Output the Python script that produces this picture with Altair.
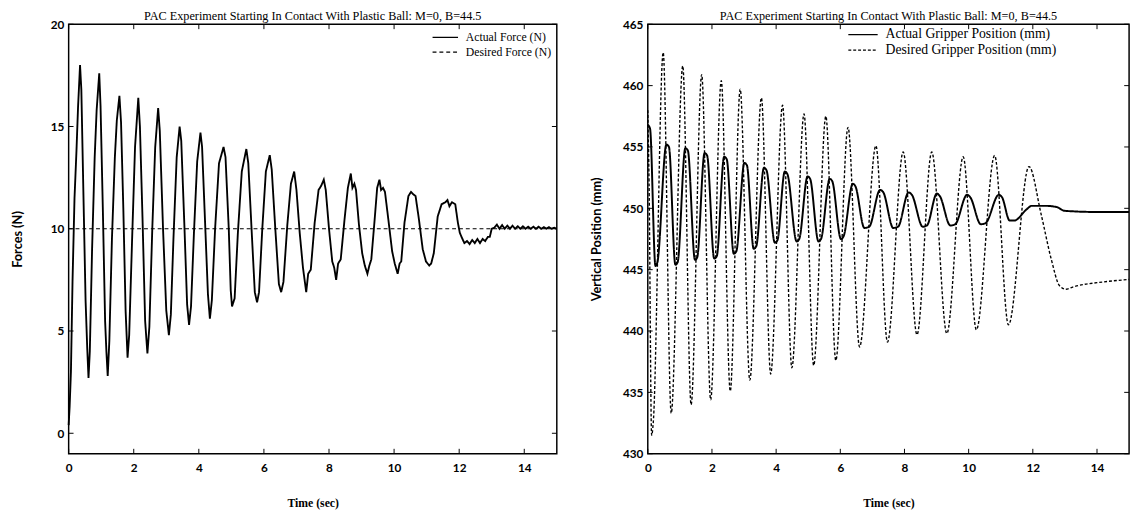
import altair as alt
import pandas as pd

TITLE = "PAC Experiment Starting In Contact With Plastic Ball: M=0, B=44.5"

# ---------------- Left panel: forces ----------------
force_t = [0.00, 0.03, 0.07, 0.12, 0.18, 0.24, 0.29, 0.35, 0.39, 0.45, 0.52, 0.57, 0.61, 0.65, 0.72, 0.80, 0.86,
           0.94, 0.98, 1.05, 1.12, 1.16, 1.20, 1.25, 1.33, 1.42, 1.48, 1.56, 1.61, 1.68, 1.75, 1.81, 1.86, 1.95,
           2.04, 2.14, 2.19, 2.27, 2.35, 2.42, 2.48, 2.57, 2.66, 2.75, 2.80, 2.90, 3.00, 3.08, 3.14, 3.22, 3.32,
           3.41, 3.46, 3.56, 3.64, 3.70, 3.76, 3.85, 3.95, 4.05, 4.10, 4.20, 4.28, 4.34, 4.40, 4.50, 4.62, 4.76,
           4.82, 4.92, 4.98, 5.02, 5.10, 5.20, 5.32, 5.46, 5.52, 5.62, 5.72, 5.79, 5.85, 5.95, 6.06, 6.18, 6.24,
           6.35, 6.46, 6.53, 6.60, 6.72, 6.83, 6.93, 7.00, 7.10, 7.20, 7.30, 7.36, 7.44, 7.56, 7.68, 7.76, 7.84,
           7.90, 8.00, 8.10, 8.16, 8.22, 8.28, 8.36, 8.48, 8.58, 8.67, 8.72, 8.78, 8.83, 8.92, 9.02, 9.10, 9.18,
           9.24, 9.30, 9.40, 9.48, 9.55, 9.60, 9.66, 9.72, 9.82, 9.94, 10.02, 10.11, 10.17, 10.22, 10.32, 10.44,
           10.52, 10.58, 10.66, 10.76, 10.88, 10.98, 11.08, 11.14, 11.22, 11.34, 11.46, 11.58, 11.64, 11.70,
           11.78, 11.88, 11.96, 12.02, 12.10, 12.16, 12.24, 12.32, 12.40, 12.48, 12.56, 12.64, 12.72, 12.80,
           12.88, 12.94, 13.00, 13.08, 13.16, 13.24, 13.32, 13.40, 13.48, 13.56, 13.64, 13.72, 13.80, 13.88,
           13.96, 14.04, 14.12, 14.20, 14.28, 14.36, 14.44, 14.52, 14.60, 14.68, 14.76, 14.84, 14.92, 15.00]
force_v = [0.4, 1.3, 3.0, 7.5, 11.5, 13.8, 16.0, 18.0, 16.8, 12.0, 6.5, 4.2, 2.7, 4.0, 9.0, 13.5, 15.8,
           17.6, 16.0, 11.0, 5.5, 4.0, 2.8, 4.5, 9.5, 13.5, 15.3, 16.5, 15.2, 11.0, 6.0, 3.7, 4.8, 9.5,
           14.0, 16.4, 15.0, 10.5, 5.5, 3.9, 5.2, 10.0, 14.0, 15.9, 14.8, 10.0, 6.0, 4.8, 5.8, 9.5, 13.5,
           15.0, 14.3, 10.0, 6.3, 5.3, 6.2, 9.8, 13.3, 14.7, 14.0, 10.0, 6.8, 5.6, 6.5, 10.0, 13.2, 14.0,
           13.5, 10.0, 7.0, 6.2, 6.6, 9.8, 12.8, 13.9, 13.2, 10.0, 6.9, 6.4, 6.9, 10.0, 12.8, 13.6, 12.9,
           10.0, 7.3, 6.9, 7.4, 10.2, 12.2, 12.8, 11.9, 9.8, 8.1, 6.9, 7.8, 8.0, 10.3, 11.9, 12.1, 12.4,
           11.9, 10.0, 8.4, 8.1, 7.5, 8.3, 8.5, 10.5, 12.0, 12.7, 12.0, 12.2, 11.9, 10.2, 8.8, 8.2, 7.8,
           8.2, 8.5, 10.4, 12.0, 12.4, 11.9, 12.0, 11.8, 10.5, 8.9, 8.3, 7.8, 8.3, 8.4, 10.3, 11.6,
           11.8, 11.7, 11.6, 10.5, 9.0, 8.4, 8.2, 8.3, 8.8, 10.6, 11.2, 11.3, 11.4, 11.1,
           11.3, 11.2, 10.3, 9.8, 9.5, 9.3, 9.4, 9.25, 9.45, 9.3, 9.5, 9.3, 9.5, 9.4,
           9.6, 9.6, 10.0, 10.05, 10.2, 10.0, 10.18, 10.0, 10.15, 10.0, 10.15, 10.0, 10.12, 10.0,
           10.12, 10.0, 10.1, 10.0, 10.1, 10.0, 10.1, 10.0, 10.08, 10.0, 10.08, 10.0, 10.05, 10.0]
desired_force_t = [0.0, 15.0]
desired_force_v = [10.0, 10.0]

# ---------------- Right panel: gripper position ----------------
pos_act_t = [0.00, 0.07, 0.24, 0.30, 0.58, 0.66, 0.86, 0.93, 1.17, 1.25, 1.47, 1.54, 1.77, 1.85, 2.07, 2.15,
             2.38, 2.46, 2.68, 2.76, 3.01, 3.09, 3.30, 3.38, 3.62, 3.70, 3.96, 4.04, 4.27, 4.35, 4.64, 4.72,
             4.98, 5.06, 5.32, 5.40, 5.67, 5.75, 6.02, 6.10, 6.39, 6.47, 6.75, 6.90, 7.24, 7.34, 7.65, 7.80,
             8.13, 8.23, 8.57, 8.70, 9.01, 9.10, 9.43, 9.58, 9.95, 10.05, 10.38, 10.53, 10.94, 11.04, 11.28,
             11.42, 11.80, 11.96, 12.40, 12.75, 12.98, 14.00, 15.00]
pos_act_v = [456.8, 456.5, 445.3, 445.6, 455.2, 455.0, 445.4, 445.6, 454.9, 454.7, 445.8, 446.0, 454.5, 454.3,
             445.9, 446.1, 454.2, 454.0, 446.3, 446.5, 453.7, 453.5, 446.7, 446.9, 453.3, 453.1, 447.2, 447.4,
             453.0, 452.8, 447.3, 447.5, 452.6, 452.4, 447.3, 447.5, 452.4, 452.2, 447.5, 447.7, 452.0, 451.8,
             448.4, 448.5, 451.5, 451.3, 448.4, 448.5, 451.3, 451.1, 448.5, 448.6, 451.2, 451.0, 448.6, 448.7,
             451.1, 450.9, 448.7, 448.8, 451.1, 450.9, 449.0, 449.0, 449.9, 450.2, 450.2, 450.1, 449.8, 449.7,
             449.7]
pos_des_t = [0.00, 0.04, 0.12, 0.17, 0.48, 0.73, 1.09, 1.35, 1.68, 1.96, 2.29, 2.57, 2.88, 3.18, 3.54, 3.83,
             4.20, 4.49, 4.87, 5.17, 5.55, 5.86, 6.24, 6.60, 7.11, 7.47, 7.96, 8.39, 8.85, 9.32, 9.83, 10.24,
             10.81, 11.24, 11.88, 12.26, 12.57, 12.83, 13.03, 13.26, 14.20, 15.00]
pos_des_v = [458.0, 452.0, 431.5, 432.5, 462.7, 433.3, 461.6, 434.0, 460.9, 434.4, 460.4, 435.1, 459.7, 436.0,
             459.0, 436.5, 458.4, 437.0, 457.7, 437.2, 457.5, 437.6, 456.6, 438.7, 455.1, 439.1, 454.6, 439.7,
             454.6, 439.8, 454.2, 440.1, 454.3, 440.5, 453.4, 449.5, 445.9, 443.7, 443.4, 443.6, 444.0, 444.2]

x_ticks = [0, 2, 4, 6, 8, 10, 12, 14]
force_ticks = [0, 5, 10, 15, 20]
pos_ticks = [430, 435, 440, 445, 450, 455, 460, 465]

force_names = ["Actual Force (N)", "Desired Force (N)"]
pos_names = ["Actual Gripper Position (mm)", "Desired Gripper Position (mm)"]

H = 439
W1 = 499
W2 = 492

LABEL_FONT = "Lato"
SERIF = "Liberation Serif"


def make_panel(act_t, act_v, des_t, des_v, names, ydomain, yticks, ytitle, width,
               dash, act_w, des_w, interp, lx, ly, ytitle_pad, sym_path, lab_off, lab_size):
    act = pd.DataFrame({"t": act_t, "v": act_v, "series": names[0]})
    des = pd.DataFrame({"t": des_t, "v": des_v, "series": names[1]})
    xs = alt.Scale(domain=[0, 15], nice=False, zero=False)
    ys = alt.Scale(domain=ydomain, nice=False, zero=False)
    xaxis = alt.Axis(values=x_ticks, title="Time (sec)", grid=False, ticks=False, domain=False,
                     labelFont=LABEL_FONT, labelFontWeight="bold", labelFontSize=12, labelColor="black",
                     labelPadding=9, labelFlush=False, labelOverlap=False,
                     titleFont=SERIF, titleFontWeight="bold", titleFontSize=12, titleColor="black",
                     titlePadding=25)
    yaxis = alt.Axis(values=yticks, title=ytitle, grid=False, ticks=False, domain=False,
                     labelFont=LABEL_FONT, labelFontWeight="bold", labelFontSize=12, labelColor="black",
                     labelPadding=5, labelFlush=False, labelOverlap=False,
                     titleFont=LABEL_FONT, titleFontWeight="bold", titleFontSize=13, titleColor="black",
                     titlePadding=ytitle_pad)
    dash_enc = alt.StrokeDash(
        "series:N",
        scale=alt.Scale(domain=names, range=[[1, 0], dash]),
        legend=alt.Legend(orient="none", legendX=lx, legendY=ly, title=None, symbolType=sym_path,
                          symbolSize=225, symbolStrokeWidth=1.3, symbolStrokeColor="black",
                          labelFont=SERIF, labelFontSize=lab_size, labelColor="black", labelOffset=lab_off,
                          labelLimit=400, rowPadding=-1, padding=0),
    )
    line_act = alt.Chart(act).mark_line(color="black", strokeWidth=act_w, interpolate=interp).encode(
        x=alt.X("t:Q", scale=xs, axis=xaxis),
        y=alt.Y("v:Q", scale=ys, axis=yaxis),
        strokeDash=dash_enc,
    )
    line_des = alt.Chart(des).mark_line(color="black", strokeWidth=des_w, interpolate=interp).encode(
        x="t:Q", y="v:Q", strokeDash=dash_enc,
    )
    xt = pd.DataFrame({"t": x_ticks})
    yt = pd.DataFrame({"v": yticks})
    tb = alt.Chart(xt).mark_rule(color="black", strokeWidth=1).encode(
        x="t:Q", y=alt.value(H), y2=alt.value(H - 5))
    tt = alt.Chart(xt).mark_rule(color="black", strokeWidth=1).encode(
        x="t:Q", y=alt.value(0), y2=alt.value(5))
    tl = alt.Chart(yt).mark_rule(color="black", strokeWidth=1).encode(
        y="v:Q", x=alt.value(0), x2=alt.value(5))
    tr = alt.Chart(yt).mark_rule(color="black", strokeWidth=1).encode(
        y="v:Q", x=alt.value(width - 5), x2=alt.value(width))
    frame = alt.Chart(pd.DataFrame({"k": [0]})).mark_rect(
        filled=False, stroke="black", strokeWidth=1.5).encode(
        x=alt.value(0), x2=alt.value(width), y=alt.value(0), y2=alt.value(H))
    return alt.layer(line_des, line_act, tb, tt, tl, tr, frame).properties(
        width=width, height=H,
        title=alt.TitleParams(TITLE, font=SERIF, fontSize=12.5, fontWeight="normal", color="black",
                              offset=-4, anchor="middle"),
    )


left = make_panel(force_t, force_v, desired_force_t, desired_force_v, force_names, [-1, 20], force_ticks,
                  "Forces (N)", W1, [4, 3], 1.9, 1.1, "linear", 371, 5, 26, "M-1,0H2.47", 18, 12)
right = make_panel(pos_act_t, pos_act_v, pos_des_t, pos_des_v, pos_names, [430, 465], pos_ticks,
                   "Vertical Position (mm)", W2, [3, 2], 2.0, 1.4, "monotone", 204, 2, 19, "M-1,0H3", 22, 14)

chart = alt.hconcat(left, right, spacing=31).resolve_scale(
    strokeDash="independent", x="independent", y="independent"
).resolve_legend(strokeDash="independent").properties(
    padding={"left": 4, "top": -4, "right": 0, "bottom": 0}
).configure(background="white").configure_view(stroke=None)

chart.save("out.html", embed_options={"renderer": "svg", "actions": False})
